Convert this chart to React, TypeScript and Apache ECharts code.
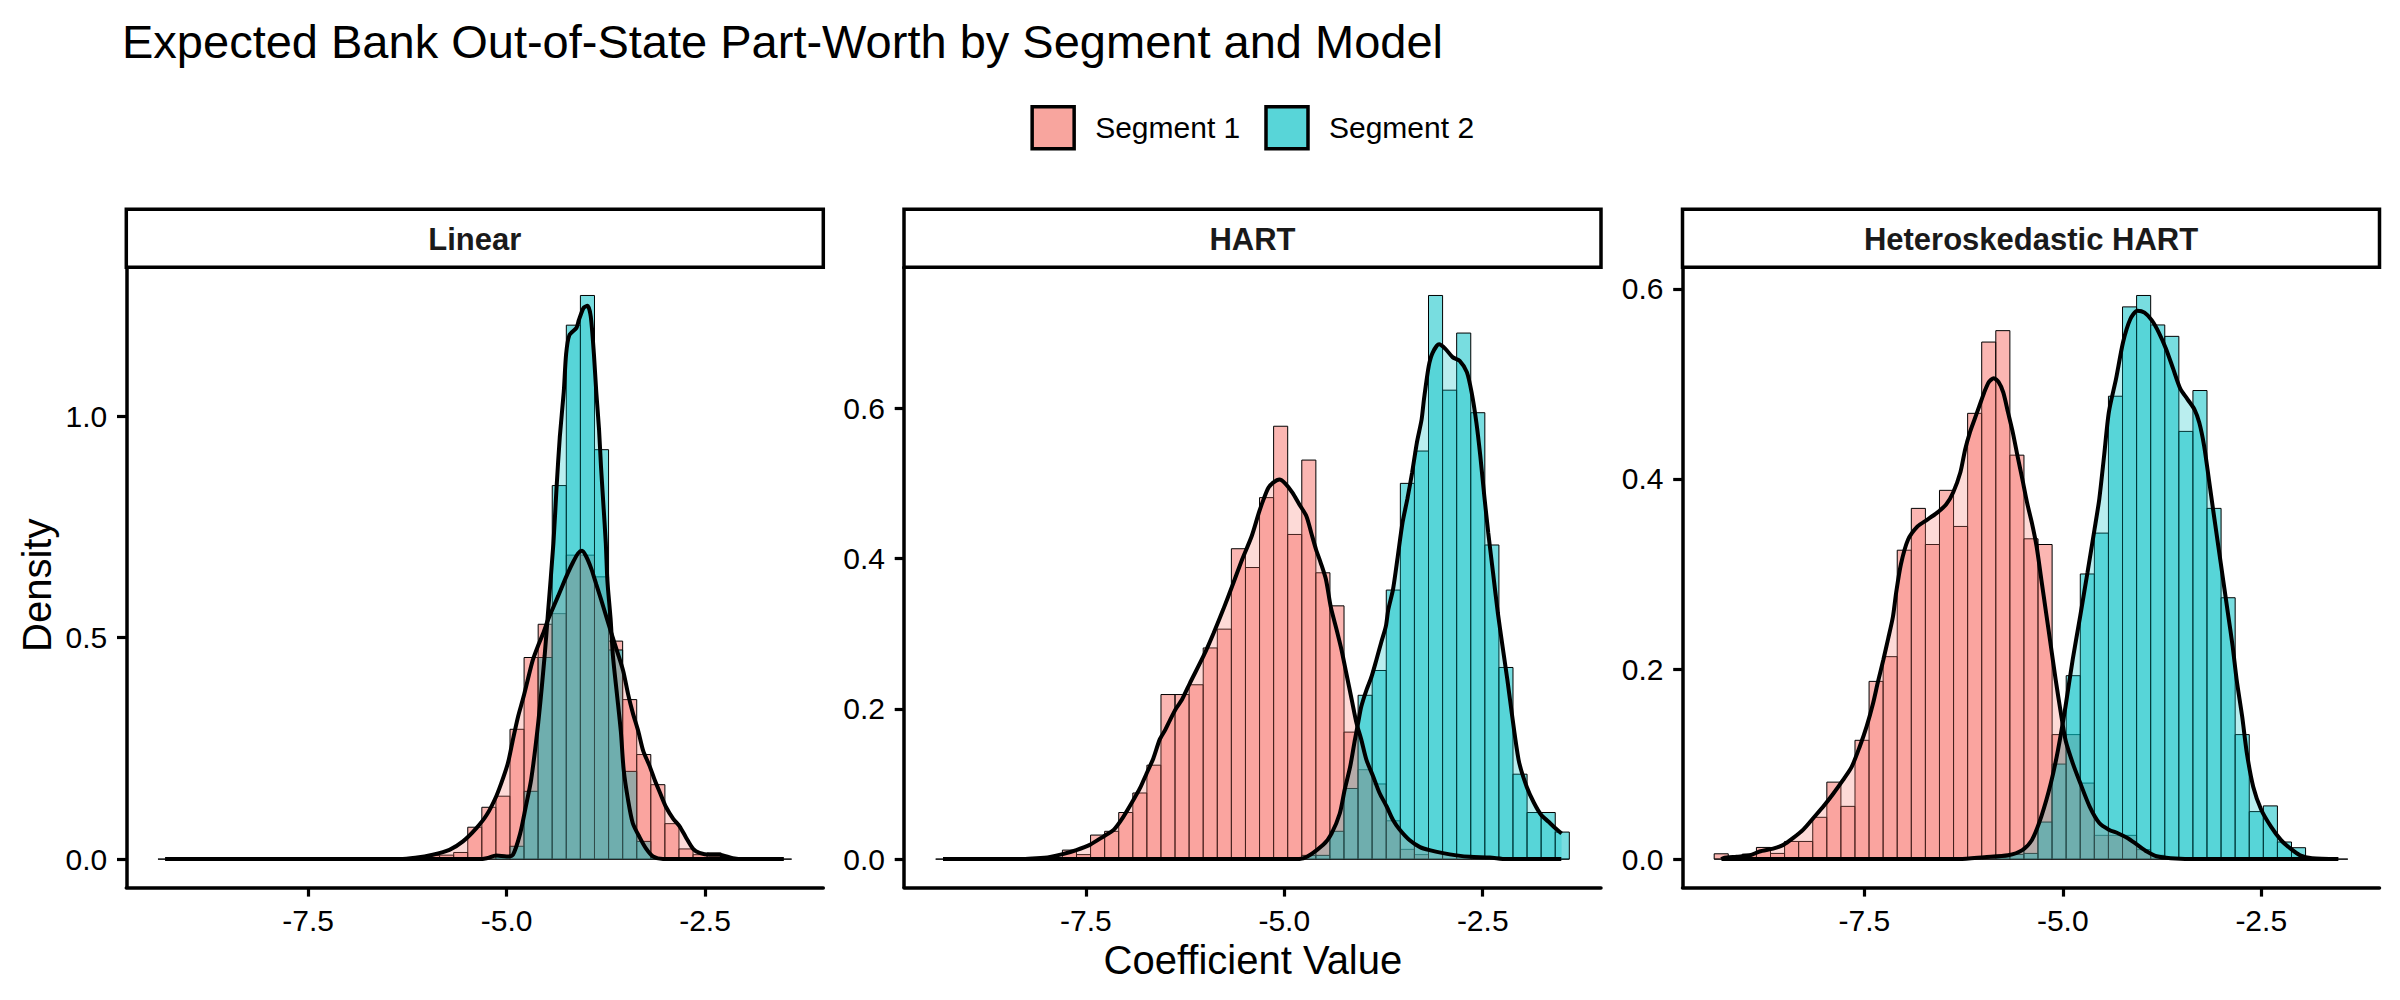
import React, { useEffect, useRef } from 'react';
import * as echarts from 'echarts';

// ---- Histogram bin grid (45 equal-width bins shared by all panels) ----
const BIN_START = -9.392;
const BIN_WIDTH = 0.1774;

// ---- Histogram densities per bin ----
const LINEAR_SEG1 = [
  0, 0, 0, 0, 0, 0, 0, 0, 0, 0, 0, 0, 0, 0, 0, 0, 0, 0, 0,
  0.008, 0.009, 0.015, 0.072, 0.117, 0.142, 0.293, 0.455, 0.53, 0.554, 0.686,
  0.686, 0.637, 0.492, 0.36, 0.236, 0.168, 0.08, 0.023, 0.01, 0.014,
  0, 0, 0, 0, 0,
];
const LINEAR_SEG2 = [
  0, 0, 0, 0, 0, 0, 0, 0, 0, 0, 0, 0, 0, 0, 0, 0, 0, 0, 0, 0, 0, 0, 0, 0,
  0.006, 0.029, 0.153, 0.455, 0.843, 1.205, 1.272, 0.924, 0.472, 0.198, 0.04, 0.003,
  0, 0, 0, 0, 0, 0, 0, 0, 0,
];
const HART_SEG1 = [
  0, 0, 0, 0, 0, 0, 0, 0, 0,
  0.012, 0.006, 0.032, 0.037, 0.062, 0.088, 0.125, 0.219, 0.219, 0.232, 0.281,
  0.306, 0.413, 0.388, 0.481, 0.576, 0.432, 0.531, 0.381, 0.337, 0.169, 0.119,
  0.1, 0.051, 0.013, 0.006,
  0, 0, 0, 0, 0, 0, 0, 0, 0, 0,
];
const HART_SEG2 = [
  0, 0, 0, 0, 0, 0, 0, 0, 0, 0, 0, 0, 0, 0, 0, 0, 0, 0, 0, 0, 0, 0, 0, 0, 0, 0,
  0.005, 0.005, 0.037, 0.094, 0.218, 0.251, 0.358, 0.5, 0.543, 0.75, 0.624, 0.7,
  0.594, 0.418, 0.255, 0.113, 0.062, 0.062, 0.036,
];
const HET_SEG1 = [
  0.0056, 0.0025, 0.0053, 0.0123, 0.006, 0.0186, 0.0186, 0.044, 0.081, 0.0555,
  0.125, 0.187, 0.213, 0.325, 0.369, 0.331, 0.388, 0.35, 0.469, 0.544, 0.556,
  0.425, 0.337, 0.331, 0.131, 0.131, 0.08, 0.025, 0.025, 0.025, 0.01, 0.004,
  0, 0, 0, 0, 0, 0, 0, 0, 0, 0, 0, 0, 0,
];
const HET_SEG2 = [
  0, 0, 0, 0, 0, 0, 0, 0, 0, 0, 0, 0, 0, 0, 0, 0, 0, 0, 0, 0,
  0.0025, 0.005, 0.006, 0.039, 0.1, 0.193, 0.3, 0.343, 0.487, 0.581, 0.593,
  0.562, 0.55, 0.45, 0.493, 0.369, 0.275, 0.131, 0.05, 0.056, 0.018, 0.012,
  0, 0, 0,
];

// ---- Kernel density curves [coefficient, density] ----
const LINEAR_SEG1_DENSITY = [
  [-9.3, 0], [-6.35, 0], [-6.15, 0.003], [-5.93, 0.01], [-5.72, 0.021], [-5.55, 0.04],
  [-5.38, 0.07], [-5.25, 0.1], [-5.13, 0.142], [-5.04, 0.185], [-4.98, 0.219],
  [-4.92, 0.27], [-4.855, 0.322], [-4.79, 0.364], [-4.73, 0.407], [-4.67, 0.449],
  [-4.6, 0.483], [-4.54, 0.509], [-4.48, 0.539], [-4.41, 0.569], [-4.35, 0.594],
  [-4.29, 0.62], [-4.23, 0.645], [-4.16, 0.671], [-4.1, 0.69], [-4.05, 0.696],
  [-4.0, 0.684], [-3.93, 0.654], [-3.87, 0.62], [-3.81, 0.586], [-3.74, 0.545],
  [-3.68, 0.51], [-3.6, 0.465], [-3.53, 0.424], [-3.47, 0.373], [-3.41, 0.33],
  [-3.34, 0.288], [-3.28, 0.245], [-3.2, 0.211], [-3.13, 0.177], [-3.07, 0.151],
  [-2.99, 0.117], [-2.9, 0.091], [-2.82, 0.074], [-2.74, 0.049], [-2.65, 0.023],
  [-2.57, 0.014], [-2.44, 0.01], [-2.32, 0.01], [-2.15, 0.002], [-2.0, 0], [-1.51, 0],
];
const LINEAR_SEG2_DENSITY = [
  [-9.3, 0], [-5.35, 0], [-5.25, 0.002], [-5.13, 0.008], [-5.0, 0.006], [-4.92, 0.01],
  [-4.83, 0.057], [-4.76, 0.117], [-4.69, 0.18], [-4.6, 0.31], [-4.52, 0.46],
  [-4.48, 0.552], [-4.41, 0.713], [-4.37, 0.84], [-4.33, 0.952], [-4.28, 1.054],
  [-4.25, 1.14], [-4.21, 1.182], [-4.12, 1.199], [-4.09, 1.216], [-4.03, 1.244],
  [-3.98, 1.249], [-3.94, 1.225], [-3.9, 1.14], [-3.87, 1.054], [-3.835, 0.969],
  [-3.81, 0.884], [-3.78, 0.799], [-3.75, 0.713], [-3.73, 0.628], [-3.69, 0.543],
  [-3.66, 0.458], [-3.61, 0.373], [-3.56, 0.287], [-3.525, 0.202], [-3.47, 0.134],
  [-3.41, 0.081], [-3.32, 0.048], [-3.24, 0.023], [-3.155, 0.006], [-3.03, 0], [-1.51, 0],
];
const HART_SEG1_DENSITY = [
  [-9.3, 0], [-8.3, 0], [-8.12, 0.001], [-7.95, 0.003], [-7.78, 0.007], [-7.62, 0.012],
  [-7.45, 0.019], [-7.28, 0.03], [-7.15, 0.039], [-7.03, 0.056], [-6.9, 0.079],
  [-6.82, 0.094], [-6.735, 0.114], [-6.65, 0.134], [-6.57, 0.159], [-6.5, 0.172],
  [-6.44, 0.185], [-6.36, 0.201], [-6.29, 0.212], [-6.19, 0.234], [-6.01, 0.272],
  [-5.89, 0.301], [-5.77, 0.332], [-5.65, 0.365], [-5.53, 0.399], [-5.41, 0.43],
  [-5.32, 0.461], [-5.26, 0.479], [-5.2, 0.494], [-5.14, 0.501], [-5.06, 0.505],
  [-4.99, 0.5], [-4.9, 0.488], [-4.81, 0.472], [-4.72, 0.456], [-4.66, 0.434],
  [-4.6, 0.412], [-4.54, 0.394], [-4.475, 0.372], [-4.415, 0.336], [-4.34, 0.305],
  [-4.28, 0.279], [-4.22, 0.248], [-4.15, 0.212], [-4.09, 0.181], [-4.03, 0.159],
  [-3.965, 0.132], [-3.88, 0.11], [-3.8, 0.088], [-3.71, 0.07], [-3.63, 0.052],
  [-3.545, 0.039], [-3.42, 0.025], [-3.29, 0.016], [-3.17, 0.012], [-3.0, 0.008],
  [-2.83, 0.005], [-2.66, 0.003], [-2.41, 0.002], [-2.2, 0], [-1.51, 0],
];
const HART_SEG2_DENSITY = [
  [-9.3, 0], [-4.9, 0], [-4.76, 0.001], [-4.51, 0.019], [-4.405, 0.034], [-4.3, 0.061],
  [-4.24, 0.092], [-4.17, 0.123], [-4.11, 0.159], [-4.07, 0.181], [-4.03, 0.203],
  [-3.965, 0.225], [-3.9, 0.243], [-3.84, 0.265], [-3.78, 0.288], [-3.72, 0.31],
  [-3.69, 0.332], [-3.63, 0.359], [-3.57, 0.403], [-3.51, 0.448], [-3.45, 0.479],
  [-3.39, 0.514], [-3.33, 0.554], [-3.27, 0.585], [-3.24, 0.612], [-3.18, 0.656],
  [-3.13, 0.674], [-3.05, 0.685], [-2.97, 0.679], [-2.88, 0.668], [-2.79, 0.663],
  [-2.7, 0.648], [-2.64, 0.621], [-2.58, 0.581], [-2.53, 0.536], [-2.48, 0.483],
  [-2.43, 0.434], [-2.37, 0.381], [-2.31, 0.328], [-2.25, 0.283], [-2.19, 0.239],
  [-2.156, 0.212], [-2.1, 0.168], [-2.04, 0.128], [-1.945, 0.096], [-1.855, 0.075],
  [-1.765, 0.059], [-1.674, 0.05], [-1.584, 0.041], [-1.506, 0.034],
];
const HET_SEG1_DENSITY = [
  [-9.3, 0], [-9.28, 0.001], [-9.11, 0.0025], [-8.94, 0.004], [-8.82, 0.008],
  [-8.65, 0.011], [-8.52, 0.015], [-8.4, 0.022], [-8.27, 0.031], [-8.145, 0.043],
  [-8.02, 0.055], [-7.89, 0.069], [-7.77, 0.083], [-7.66, 0.097], [-7.56, 0.118],
  [-7.47, 0.14], [-7.39, 0.164], [-7.33, 0.186], [-7.26, 0.21], [-7.2, 0.232],
  [-7.14, 0.255], [-7.1, 0.28], [-7.04, 0.31], [-6.95, 0.336], [-6.83, 0.35],
  [-6.71, 0.357], [-6.59, 0.364], [-6.47, 0.373], [-6.38, 0.386], [-6.29, 0.407],
  [-6.23, 0.431], [-6.17, 0.449], [-6.11, 0.463], [-6.05, 0.477], [-5.99, 0.491],
  [-5.93, 0.502], [-5.87, 0.506], [-5.81, 0.502], [-5.75, 0.491], [-5.69, 0.47],
  [-5.63, 0.449], [-5.57, 0.424], [-5.51, 0.4], [-5.45, 0.375], [-5.39, 0.354],
  [-5.33, 0.329], [-5.27, 0.294], [-5.21, 0.259], [-5.15, 0.224], [-5.09, 0.189],
  [-5.025, 0.154], [-4.965, 0.125], [-4.875, 0.101], [-4.78, 0.08], [-4.66, 0.055],
  [-4.54, 0.038], [-4.42, 0.031], [-4.3, 0.027], [-4.18, 0.022], [-4.06, 0.015],
  [-3.94, 0.008], [-3.82, 0.003], [-3.64, 0.001], [-3.28, 0], [-1.53, 0],
];
const HET_SEG2_DENSITY = [
  [-9.3, 0], [-6.3, 0], [-5.99, 0.002], [-5.69, 0.004], [-5.51, 0.0095], [-5.39, 0.02],
  [-5.27, 0.045], [-5.15, 0.08], [-5.06, 0.115], [-4.965, 0.161], [-4.875, 0.21],
  [-4.78, 0.256], [-4.69, 0.301], [-4.6, 0.347], [-4.54, 0.379], [-4.48, 0.424],
  [-4.42, 0.47], [-4.33, 0.505], [-4.24, 0.544], [-4.15, 0.568], [-4.06, 0.577],
  [-3.97, 0.575], [-3.88, 0.567], [-3.79, 0.554], [-3.7, 0.537], [-3.61, 0.516],
  [-3.52, 0.495], [-3.43, 0.484], [-3.34, 0.473], [-3.28, 0.459], [-3.22, 0.435],
  [-3.16, 0.4], [-3.1, 0.364], [-3.04, 0.329], [-2.98, 0.294], [-2.92, 0.259],
  [-2.86, 0.224], [-2.81, 0.189], [-2.74, 0.15], [-2.68, 0.111], [-2.6, 0.076],
  [-2.5, 0.052], [-2.375, 0.034], [-2.25, 0.02], [-2.13, 0.011], [-2.01, 0.004],
  [-1.86, 0.001], [-1.53, 0],
];

// ---- Labels and ticks ----
const PANEL_LABELS = ['Linear', 'HART', 'Heteroskedastic HART'];
const SEGMENTS = ['Segment 1', 'Segment 2'];
const X_TICKS = [-7.5, -5.0, -2.5];
const LINEAR_Y_TICKS = [0, 0.5, 1.0];
const HART_Y_TICKS = [0, 0.2, 0.4, 0.6];
const HET_Y_TICKS = [0, 0.2, 0.4, 0.6];

// ---- Styling ----
const FONT = '"Liberation Sans", Arial, Helvetica, sans-serif';
const BAR_FILL = ['rgba(248,118,109,0.53)', 'rgba(0,191,196,0.53)'];
const DENS_FILL = ['rgba(248,118,109,0.27)', 'rgba(0,191,196,0.27)'];
const KEY_FILL = ['#F8A59E', '#58D5D8'];

// ---- Layout (px) ----
const PANEL_LEFT = [126.3, 904.0, 1682.5];
const PANEL_W = 697;
const PLOT_TOP = 267.3;
const PLOT_H = 620;
const STRIP_TOP = 209.3;
const STRIP_H = 58;

const toBins = (heights: number[]) =>
  heights.map((h, i) => [BIN_START + i * BIN_WIDTH, BIN_START + (i + 1) * BIN_WIDTH, h]);

function histSeries(name: string, heights: number[], idx: number, fill: string) {
  return {
    type: 'custom',
    name,
    xAxisIndex: idx,
    yAxisIndex: idx,
    data: toBins(heights),
    encode: { x: [0, 1], y: 2 },
    renderItem: (_params: any, api: any) => {
      const top = api.coord([api.value(0), api.value(2)]);
      const base = api.coord([api.value(1), 0]);
      const h = base[1] - top[1];
      if (h < 0.5) {
        return {
          type: 'line',
          shape: { x1: top[0], y1: base[1], x2: base[0], y2: base[1] },
          style: { stroke: '#000', lineWidth: 1 },
        };
      }
      return {
        type: 'rect',
        shape: { x: top[0], y: top[1], width: base[0] - top[0], height: h },
        style: { fill, stroke: '#000', lineWidth: 1 },
      };
    },
    z: 2,
  };
}

function densitySeries(name: string, pts: number[][], idx: number, fill: string) {
  return {
    type: 'line',
    name,
    xAxisIndex: idx,
    yAxisIndex: idx,
    data: pts,
    showSymbol: false,
    smooth: 0.25,
    lineStyle: { color: '#000', width: 4 },
    itemStyle: { color: '#000' },
    areaStyle: { color: fill, opacity: 1 },
    z: 3,
  };
}

function buildOption() {
  const panels = [
    { s1: LINEAR_SEG1, s2: LINEAR_SEG2, d1: LINEAR_SEG1_DENSITY, d2: LINEAR_SEG2_DENSITY, yTicks: LINEAR_Y_TICKS },
    { s1: HART_SEG1, s2: HART_SEG2, d1: HART_SEG1_DENSITY, d2: HART_SEG2_DENSITY, yTicks: HART_Y_TICKS },
    { s1: HET_SEG1, s2: HET_SEG2, d1: HET_SEG1_DENSITY, d2: HET_SEG2_DENSITY, yTicks: HET_Y_TICKS },
  ];

  const binLo = BIN_START;
  const binHi = BIN_START + LINEAR_SEG1.length * BIN_WIDTH;
  const xPad = 0.05 * (binHi - binLo);

  const axisLineStyle = { color: '#000', width: 3.5 };
  const tickStyle = { color: '#000', width: 3.2 };
  const labelStyle = { color: '#000', fontSize: 30, fontFamily: FONT };

  const grid: any[] = [];
  const xAxis: any[] = [];
  const yAxis: any[] = [];
  const series: any[] = [];
  const graphic: any[] = [];

  panels.forEach((p, i) => {
    grid.push({ left: PANEL_LEFT[i], top: PLOT_TOP, width: PANEL_W, height: PLOT_H });
    const yMaxData = Math.max(...p.s1, ...p.s2, ...p.d1.map((d) => d[1]), ...p.d2.map((d) => d[1]));
    xAxis.push({
      type: 'value',
      gridIndex: i,
      min: binLo - xPad,
      max: binHi + xPad,
      axisLine: { show: true, onZero: false, lineStyle: axisLineStyle },
      axisTick: { show: true, length: 9.3, customValues: X_TICKS, lineStyle: tickStyle },
      axisLabel: {
        customValues: X_TICKS,
        formatter: (v: number) => v.toFixed(1),
        margin: 18,
        ...labelStyle,
      },
      splitLine: { show: false },
    });
    yAxis.push({
      type: 'value',
      gridIndex: i,
      min: -0.05 * yMaxData,
      max: 1.05 * yMaxData,
      axisLine: { show: true, onZero: false, lineStyle: axisLineStyle },
      axisTick: { show: true, length: 9.3, customValues: p.yTicks, lineStyle: tickStyle },
      axisLabel: {
        customValues: p.yTicks,
        formatter: (v: number) => v.toFixed(1),
        margin: 19,
        ...labelStyle,
      },
      splitLine: { show: false },
    });

    series.push(histSeries(SEGMENTS[0], p.s1, i, BAR_FILL[0]));
    series.push(histSeries(SEGMENTS[1], p.s2, i, BAR_FILL[1]));
    series.push(densitySeries(SEGMENTS[0], p.d1, i, DENS_FILL[0]));
    series.push(densitySeries(SEGMENTS[1], p.d2, i, DENS_FILL[1]));

    // facet strip
    graphic.push({
      type: 'rect',
      shape: { x: PANEL_LEFT[i], y: STRIP_TOP, width: PANEL_W, height: STRIP_H },
      style: { fill: '#fff', stroke: '#000', lineWidth: 3.5 },
      z: 10,
    });
    graphic.push({
      type: 'text',
      x: PANEL_LEFT[i] + PANEL_W / 2,
      y: STRIP_TOP + STRIP_H / 2 + 1,
      style: {
        text: PANEL_LABELS[i],
        fill: '#1A1A1A',
        font: `bold 31px ${FONT}`,
        textAlign: 'center',
        textVerticalAlign: 'middle',
      },
      z: 11,
    });
  });

  // axis titles
  graphic.push({
    type: 'text',
    x: (PANEL_LEFT[0] + PANEL_LEFT[2] + PANEL_W) / 2,
    y: 960,
    style: {
      text: 'Coefficient Value',
      fill: '#000',
      font: `40px ${FONT}`,
      textAlign: 'center',
      textVerticalAlign: 'middle',
    },
  });
  graphic.push({
    type: 'text',
    x: 37,
    y: PLOT_TOP + PLOT_H / 2 + 8,
    rotation: Math.PI / 2,
    style: {
      text: 'Density',
      fill: '#000',
      font: `40px ${FONT}`,
      textAlign: 'center',
      textVerticalAlign: 'middle',
    },
  });

  return {
    animation: false,
    backgroundColor: '#fff',
    title: {
      text: 'Expected Bank Out-of-State Part-Worth by Segment and Model',
      left: 122,
      top: 18,
      padding: 0,
      textStyle: { fontSize: 47, fontWeight: 'normal', color: '#000', fontFamily: FONT },
    },
    legend: {
      left: 1030.4,
      top: 105,
      padding: 0,
      itemWidth: 42,
      itemHeight: 42,
      itemGap: 24,
      selectedMode: false,
      textStyle: { fontSize: 30, color: '#000', fontFamily: FONT, padding: [0, 0, 0, 16] },
      data: SEGMENTS.map((s, i) => ({
        name: s,
        icon: 'rect',
        itemStyle: { color: KEY_FILL[i], borderColor: '#000', borderWidth: 3.5 },
      })),
    },
    grid,
    xAxis,
    yAxis,
    series,
    graphic,
  };
}

export default function App() {
  const ref = useRef<HTMLDivElement>(null);
  useEffect(() => {
    if (!ref.current) return;
    const chart = echarts.init(ref.current, null, { renderer: 'svg' });
    chart.setOption(buildOption() as any);
    return () => chart.dispose();
  }, []);
  return (
    <div
      ref={ref}
      style={{ position: 'fixed', left: 0, top: 0, width: 2400, height: 1000, background: '#fff' }}
    />
  );
}
